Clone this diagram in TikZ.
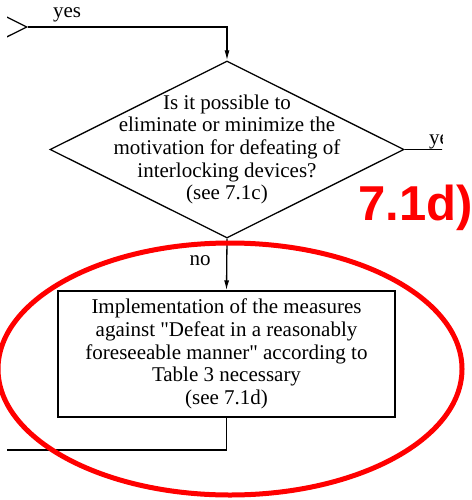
\documentclass[tikz,border=0pt]{standalone}
\usepackage{fontspec}
\setmainfont{Liberation Serif}
\newfontfamily\annofont{Liberation Sans}
\usetikzlibrary{shapes.geometric, arrows.meta, positioning}
\tikzstyle{arrow} = [line width=1.3pt, -{Latex[length=10pt, width=5pt]}]

\begin{document}
\begin{tikzpicture}[
  x=1pt, y=-1pt,
  decision/.style={draw, diamond, line width=1.3pt, minimum width=354pt, minimum height=177pt, inner sep=0pt},
  process/.style={draw, line width=1.3pt, minimum width=337pt, minimum height=126pt, align=center, font=\fontsize{21}{22.7}\selectfont},
  txt/.style={align=center, inner sep=0pt, font=\fontsize{21}{22.7}\selectfont},
  line/.style={line width=1.3pt},
  redline/.style={draw=red, line width=5pt},
  anno/.style={text=red, inner sep=0pt, font=\annofont\bfseries\fontsize{49}{49}\selectfont}
]
\clip (0,0) rectangle (471,500);

% Flow chart, cut off at the sides
\begin{scope}
\clip (7,0) rectangle (442,500);

% Nodes with align=center so \\ works
\node[decision] (prev) at (-150,27) {};
\node[decision] (quest) at (227,149.5) {};
\node[txt] (questtext) at (quest.center) {Is it possible to\\eliminate or minimize the\\motivation for defeating of\\interlocking devices?\\(see 7.1c)};
\node[process] (measures) at (226.5,354) {Implementation of the measures\\against \textquotedbl Defeat in a reasonably\\foreseeable manner\textquotedbl{} according to\\Table 3 necessary\\(see 7.1d)};
\coordinate (exitR) at (450,149.5);
\coordinate (exitB) at (0,450);

% Labels
\node[txt, anchor=base] (yesL) at (67,18) {yes};
\node[txt, anchor=base west] (yesR) at (429,144) {yes};
\node[txt, anchor=base] (noB) at (200,265) {no};

% Arrows
\draw[arrow] (prev.east) -| (quest.north);
\draw[line] (quest.east) -- (exitR);
\draw[arrow] (quest.south) -- (measures.north);
\draw[line] (measures.south) |- (exitB);
\end{scope}

% Red marking
\draw[redline] (230,369) ellipse [x radius=232, y radius=126];
\node[anno, anchor=base west] (secref) at (358,220) {7.1d)};

\end{tikzpicture}
\end{document}
